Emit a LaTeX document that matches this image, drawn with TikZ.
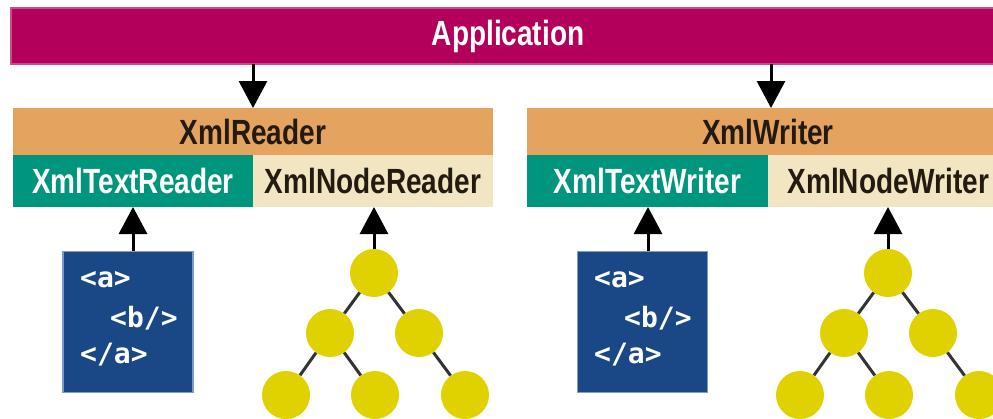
\documentclass[tikz,border=0pt]{standalone}
\usepackage{fontspec}
\usetikzlibrary{arrows.meta}
\newfontfamily\labelfont[FakeStretch=0.8]{Liberation Sans}
\newfontfamily\codefont{DejaVu Sans Mono}
\definecolor{appmag}{HTML}{B3005A}
\definecolor{appedge}{HTML}{CC4D8C}
\definecolor{baseorange}{HTML}{E4A35E}
\definecolor{textteal}{HTML}{00957D}
\definecolor{nodebeige}{HTML}{F2E6C2}
\definecolor{docblue}{HTML}{1A4785}
\definecolor{docedge}{HTML}{7F9CC4}
\definecolor{treeyellow}{HTML}{E0D200}
\definecolor{darktext}{HTML}{231A10}
\tikzset{
  bar/.style={rectangle, inner sep=0pt, outer sep=0pt, font=\labelfont\bfseries\fontsize{35}{35}\selectfont},
  flow/.style={line width=3pt, -{Triangle[width=28pt,length=27pt]}},
  docbox/.style={rectangle, fill=docblue, draw=docedge, line width=1.5pt, inner sep=0pt,
    minimum width=130pt, minimum height=141pt},
  codeline/.style={anchor=west, inner sep=0pt, text=white, font=\codefont\bfseries\fontsize{28}{28}\selectfont},
  treenode/.style={circle, fill=treeyellow, inner sep=0pt, minimum size=48pt},
  treeedge/.style={line width=3pt, draw=black!80},
}
\begin{document}
\begin{tikzpicture}[x=1pt, y=-1pt]
\useasboundingbox (0,0) rectangle (993,418);
\clip (0,0) rectangle (993,418);

% application layer
\node[bar, fill=appmag, draw=appedge, line width=1.5pt, text=white,
      minimum width=994pt, minimum height=56pt] (app) at (508,36) {Application};

% reader stack
\node[bar, fill=baseorange, text=darktext, minimum width=480pt, minimum height=47pt]
  (reader) at (253,131.5) {XmlReader};
\node[bar, fill=textteal, text=white, minimum width=240pt, minimum height=52pt]
  (treader) at (133,181) {XmlTextReader};
\node[bar, fill=nodebeige, text=darktext, minimum width=240pt, minimum height=52pt]
  (nreader) at (373,181) {XmlNodeReader};

% writer stack
\node[bar, fill=baseorange, text=darktext, minimum width=482pt, minimum height=47pt]
  (writer) at (768,131.5) {XmlWriter};
\node[bar, fill=textteal, text=white, minimum width=241pt, minimum height=52pt]
  (twriter) at (647.5,181) {XmlTextWriter};
\node[bar, fill=nodebeige, text=darktext, minimum width=241pt, minimum height=52pt]
  (nwriter) at (888.5,181) {XmlNodeWriter};

% application calls
\coordinate (appL) at (253,64);
\coordinate (appR) at (771,64);
\draw[flow] (appL) -- (appL |- reader.north);
\draw[flow] (appR) -- (appR |- writer.north);

% XML documents
\node[docbox] (docL) at (128,322) {};
\node[docbox] (docR) at (642.5,322) {};
\foreach \d/\dx in {L/0,R/514} {
  \node[codeline] (aopen\d)  at (80+\dx,280) {<a>};
  \node[codeline] (bempty\d) at (110+\dx,318) {<b/>};
  \node[codeline] (aclose\d) at (80+\dx,355) {</a>};
}
\draw[flow] (docL.north -| 133,0) -- (133,207);
\draw[flow] (docR.north -| 648,0) -- (648,207);

% node trees
\foreach \t/\dx in {L/0,R/514} {
  \node[treenode] (root\t) at (374+\dx,273) {};
  \node[treenode] (ml\t)   at (330+\dx,333) {};
  \node[treenode] (mr\t)   at (419+\dx,333) {};
  \node[treenode] (ll\t)   at (286+\dx,395) {};
  \node[treenode] (lm\t)   at (375+\dx,395) {};
  \node[treenode] (lr\t)   at (465+\dx,395) {};
  \draw[treeedge] (root\t) -- (ml\t);
  \draw[treeedge] (root\t) -- (mr\t);
  \draw[treeedge] (ml\t) -- (ll\t);
  \draw[treeedge] (ml\t) -- (lm\t);
  \draw[treeedge] (mr\t) -- (lr\t);
}
\draw[flow] (rootL.north) -- (rootL.north |- nreader.south);
\draw[flow] (rootR.north) -- (rootR.north |- nwriter.south);
\end{tikzpicture}
\end{document}
